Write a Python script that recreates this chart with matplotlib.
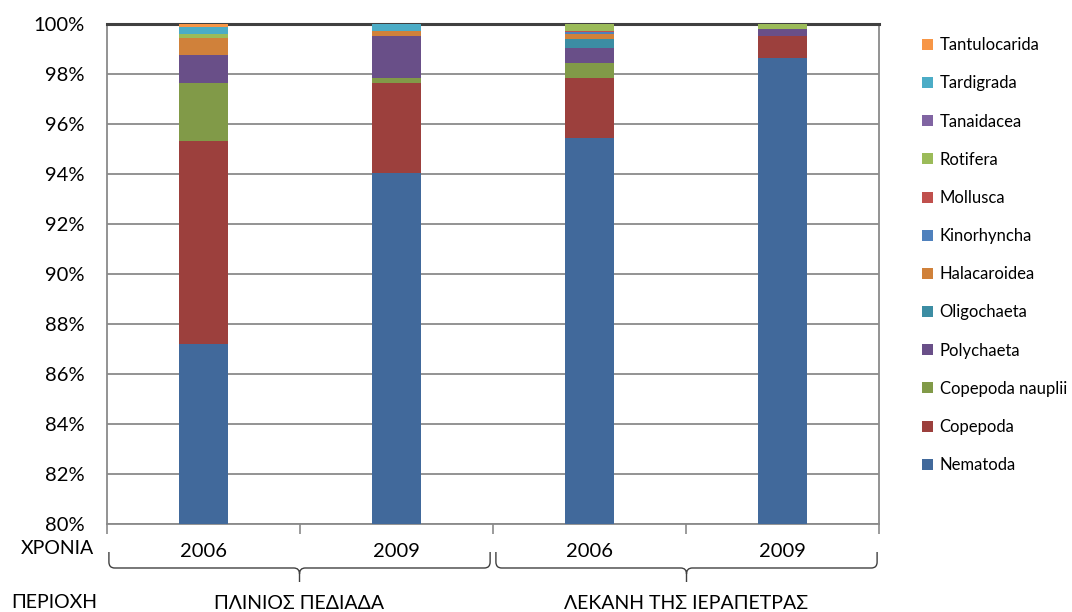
import matplotlib
matplotlib.use("Agg")
import matplotlib.pyplot as plt
import numpy as np
from matplotlib.path import Path
from matplotlib.patches import PathPatch
from matplotlib.transforms import blended_transform_factory

plt.rcParams["font.family"] = ["Lato", "DejaVu Sans"]

# relative abundance (%) per sample: Plinios 2006, Plinios 2009, Ierapetra 2006, Ierapetra 2009
years = ["2006", "2009", "2006", "2009"]
regions = ["ΠΛΙΝΙΟΣ ΠΕΔΙΑΔΑ", "ΛΕΚΑΝΗ ΤΗΣ ΙΕΡΑΠΕΤΡΑΣ"]
taxa = ["Nematoda", "Copepoda", "Copepoda nauplii", "Polychaeta", "Oligochaeta",
        "Halacaroidea", "Kinorhyncha", "Mollusca", "Rotifera", "Tanaidacea",
        "Tardigrada", "Tantulocarida"]

nematoda = [87.20, 94.04, 95.45, 98.63]
copepoda = [8.10, 3.61, 2.38, 0.88]
copepoda_nauplii = [2.35, 0.20, 0.62, 0.00]
polychaeta = [1.10, 1.68, 0.58, 0.30]
oligochaeta = [0.00, 0.00, 0.37, 0.00]
halacaroidea = [0.67, 0.20, 0.20, 0.00]
kinorhyncha = [0.00, 0.00, 0.08, 0.00]
mollusca = [0.00, 0.00, 0.05, 0.00]
rotifera = [0.17, 0.00, 0.27, 0.19]
tanaidacea = [0.00, 0.00, 0.00, 0.00]
tardigrada = [0.27, 0.27, 0.00, 0.00]
tantulocarida = [0.14, 0.00, 0.00, 0.00]

series = [nematoda, copepoda, copepoda_nauplii, polychaeta, oligochaeta, halacaroidea,
          kinorhyncha, mollusca, rotifera, tanaidacea, tardigrada, tantulocarida]
colors = ["#41699B", "#9C403D", "#819A48", "#694F88", "#3C8DA3", "#D0813A",
          "#4F81BD", "#C0504D", "#9BBB59", "#8064A2", "#4BACC6", "#F79646"]

fig = plt.figure(figsize=(10.72, 6.12), dpi=100)
ax = fig.add_axes([0.0998, 0.1438, 0.7202, 0.8170])

x = np.arange(len(years))
bottom = np.zeros(len(years))
handles = []
for name, vals, c in zip(taxa, series, colors):
    h = ax.bar(x, vals, 0.25, bottom=bottom, color=c, label=name, zorder=3)
    handles.append(h)
    bottom += np.array(vals)

ax.set_xlim(-0.5, 3.5)
ax.set_ylim(80, 100)
ax.set_yticks(np.arange(80, 101, 2))
ax.set_yticklabels([f"{v}%" for v in range(80, 101, 2)], fontsize=14.5)
ax.yaxis.grid(True, color="#8A8A8A", lw=1.3, zorder=0)
ax.tick_params(axis="y", length=0, pad=16)

# year labels under each bar, tick marks on group boundaries
ax.set_xticks(x)
ax.set_xticklabels(years, fontsize=14.5)
ax.tick_params(axis="x", which="major", length=0, pad=14)
ax.set_xticks(np.arange(-0.5, 4, 1), minor=True)
ax.tick_params(axis="x", which="minor", length=7, color="#8A8A8A", width=1.2)

for s in ("left", "right", "bottom"):
    ax.spines[s].set_color("#8A8A8A")
    ax.spines[s].set_linewidth(1.3)
ax.spines["top"].set_color("#404040")
ax.spines["top"].set_linewidth(2.2)

# braces grouping the years by region
tr = blended_transform_factory(ax.transData, ax.transAxes)


def brace(x0, x1, label):
    xc = (x0 + x1) / 2
    y_top, y_mid, y_bot = -0.056, -0.088, -0.116
    dx, dy = 0.03, 0.012
    verts = [(x0, y_top), (x0, y_mid + dy), (x0, y_mid), (x0 + dx, y_mid),
             (xc - dx, y_mid), (xc, y_mid), (xc, y_mid - dy), (xc, y_bot),
             (xc, y_mid - dy), (xc, y_mid), (xc + dx, y_mid),
             (x1 - dx, y_mid), (x1, y_mid), (x1, y_mid + dy), (x1, y_top)]
    codes = [Path.MOVETO, Path.LINETO, Path.CURVE3, Path.CURVE3,
             Path.LINETO, Path.CURVE3, Path.CURVE3, Path.LINETO,
             Path.MOVETO, Path.CURVE3, Path.CURVE3,
             Path.LINETO, Path.CURVE3, Path.CURVE3, Path.LINETO]
    ax.add_patch(PathPatch(Path(verts, codes), fill=False, ec="#404040", lw=1.0,
                           transform=tr, clip_on=False))
    ax.text(xc, -0.160, label, transform=tr, ha="center", va="center", fontsize=14)


brace(-0.49, 1.485, regions[0])
brace(1.515, 3.49, regions[1])

fig.text(57 / 1072, 1 - 548 / 612, "ΧΡΟΝΙΑ", ha="center", va="center", fontsize=14)
fig.text(54 / 1072, 1 - 603 / 612, "ΠΕΡΙΟΧΗ", ha="center", va="center", fontsize=14)

fig.legend(handles[::-1], taxa[::-1], loc="upper left", bbox_to_anchor=(0.854, 0.950),
           frameon=False, fontsize=12, handlelength=0.65, handleheight=0.65,
           handletextpad=0.4, labelspacing=1.33, borderaxespad=0)

fig.savefig("out.png", dpi=100)
